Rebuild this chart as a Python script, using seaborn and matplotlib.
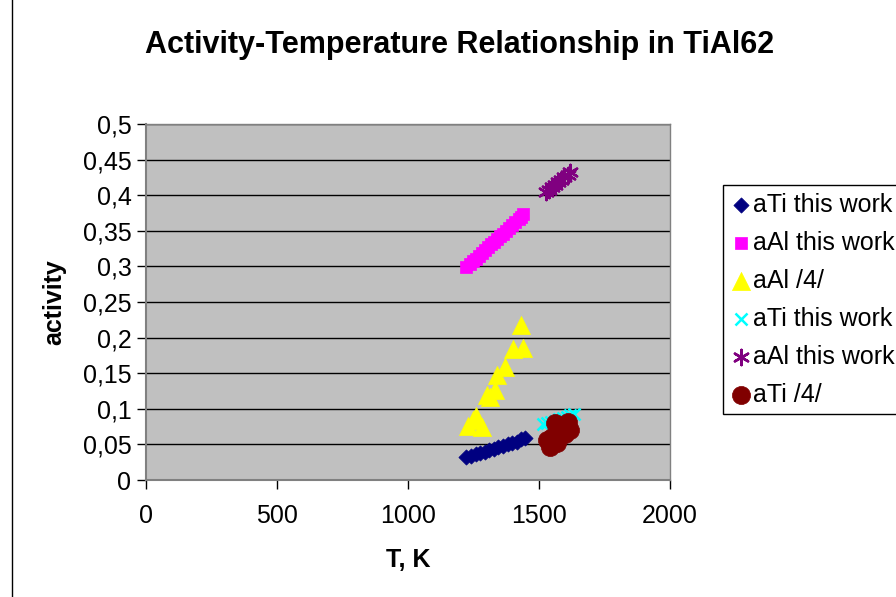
import matplotlib
matplotlib.use("Agg")
import matplotlib.pyplot as plt
import seaborn as sns
import pandas as pd
from matplotlib.patches import Rectangle
from matplotlib.ticker import FuncFormatter

# ---- data ----
ti_this_T = [1223, 1240, 1258, 1275, 1293, 1310, 1328, 1345, 1363, 1380, 1398, 1415, 1433, 1445]
ti_this_a = [0.032, 0.034, 0.036, 0.038, 0.040, 0.042, 0.044, 0.046, 0.048, 0.050, 0.052, 0.054, 0.057, 0.059]

al_this_T = [1223, 1235, 1247, 1258, 1270, 1282, 1293, 1305, 1317, 1328, 1340, 1352, 1363, 1375, 1387, 1398, 1410, 1422, 1433, 1440]
al_this_a = [0.299, 0.303, 0.307, 0.311, 0.315, 0.319, 0.323, 0.327, 0.331, 0.334, 0.338, 0.342, 0.346, 0.350, 0.354, 0.358, 0.362, 0.366, 0.370, 0.373]

al_ref_T = [1229, 1248, 1260, 1282, 1301, 1312, 1332, 1340, 1370, 1401, 1439, 1431]
al_ref_a = [0.076, 0.084, 0.090, 0.075, 0.119, 0.116, 0.126, 0.148, 0.159, 0.184, 0.186, 0.218]

ti_this2_T = [1515, 1530, 1545, 1560, 1575, 1590, 1605, 1620, 1635]
ti_this2_a = [0.078, 0.080, 0.082, 0.083, 0.085, 0.087, 0.089, 0.091, 0.093]

al_this2_T = [1525, 1537, 1549, 1561, 1573, 1585, 1597, 1609, 1620]
al_this2_a = [0.405, 0.408, 0.412, 0.415, 0.418, 0.421, 0.425, 0.428, 0.432]

ti_ref_T = [1530, 1542, 1550, 1561, 1570, 1580, 1590, 1600, 1611, 1618]
ti_ref_a = [0.056, 0.046, 0.060, 0.080, 0.052, 0.066, 0.072, 0.065, 0.082, 0.070]

series_labels = ["aTi this work", "aAl this work", "aAl /4/", "aTi this work", "aAl this work", "aTi /4/"]
x_ticks = [0, 500, 1000, 1500, 2000]
y_ticks = [0, 0.05, 0.1, 0.15, 0.2, 0.25, 0.3, 0.35, 0.4, 0.45, 0.5]

sns.set_theme(style="white")
plt.rcParams['font.family'] = ['Liberation Sans', 'DejaVu Sans']
plt.rcParams['text.color'] = 'black'
plt.rcParams['axes.labelcolor'] = 'black'
plt.rcParams['xtick.color'] = 'black'
plt.rcParams['ytick.color'] = 'black'

fig = plt.figure(figsize=(8.96, 5.97), dpi=100)
ax = fig.add_axes([146/896, 1 - 480/597, (670-146)/896, (480-124)/597])
ax.set_facecolor("#C0C0C0")

specs = [
    (ti_this_T, ti_this_a, "D", "#000080", 60, True),
    (al_this_T, al_this_a, "s", "#FF00FF", 85, True),
    (al_ref_T, al_ref_a, "^", "#FFFF00", 170, True),
    (ti_this2_T, ti_this2_a, "x", "#00FFFF", 75, False),
    (al_this2_T, al_this2_a, (6, 2, 0), "#800080", 120, False),
    (ti_ref_T, ti_ref_a, "o", "#800000", 170, True),
]
for (T, a, m, c, s, filled), lab in zip(specs, series_labels):
    df = pd.DataFrame({"T": T, "a": a})
    if filled:
        sns.scatterplot(data=df, x="T", y="a", marker=m, color=c, s=s,
                        edgecolor=c, linewidth=0.5, label=lab, ax=ax, zorder=3)
    else:
        sns.scatterplot(data=df, x="T", y="a", marker=m, color=c, s=s,
                        linewidth=1.8, label=lab, ax=ax, zorder=3)

ax.set_xlim(0, 2000)
ax.set_ylim(0, 0.5)
ax.set_xticks(x_ticks)
ax.set_yticks(y_ticks)
fmt = FuncFormatter(lambda v, p: (("%g" % round(v, 2)).replace(".", ",")))
ax.xaxis.set_major_formatter(fmt)
ax.yaxis.set_major_formatter(fmt)
for yv in y_ticks[1:]:
    ax.axhline(yv, color="black", linewidth=1.0, zorder=1)
ax.tick_params(axis="both", direction="out", length=6.5, width=1, color="black",
               labelsize=18, left=True, bottom=True)
ax.tick_params(axis="x", pad=11)
ax.tick_params(axis="y", pad=4)
for side in ["top", "right"]:
    ax.spines[side].set_color("#808080")
    ax.spines[side].set_linewidth(1)
for side in ["left", "bottom"]:
    ax.spines[side].set_color("#808080")
    ax.spines[side].set_linewidth(1.5)

ax.set_xlabel("T, K", fontsize=18, fontweight="bold", labelpad=14)
ax.set_ylabel("activity", fontsize=18, fontweight="bold", labelpad=12)
fig.text(460/896, 1 - 45/597, "Activity-Temperature Relationship in TiAl62",
         fontsize=22, fontweight="bold", ha="center", va="center")

leg = ax.legend(loc="upper left", bbox_to_anchor=(723/896, 1 - 185/597),
                bbox_transform=fig.transFigure, fontsize=18, frameon=True,
                fancybox=False, edgecolor="black", framealpha=1,
                handletextpad=0.1, handlelength=0.8, labelspacing=0.56,
                borderpad=0.3, borderaxespad=0)
leg.get_frame().set_linewidth(1)

fig.patches.append(Rectangle((12/896, -0.01), 1.0, 1.02, transform=fig.transFigure,
                             fill=False, edgecolor="black", linewidth=1))

fig.savefig("out.png", dpi=100)
